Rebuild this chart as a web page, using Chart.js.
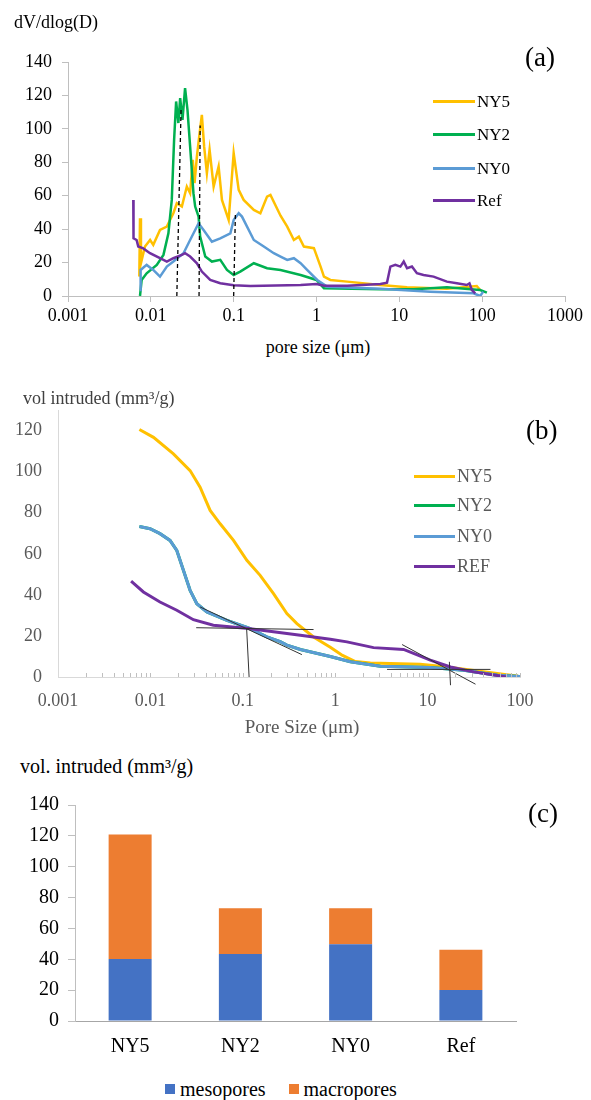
<!DOCTYPE html>
<html>
<head>
<meta charset="utf-8">
<script src="https://cdn.jsdelivr.net/npm/chart.js@4.4.1/dist/chart.umd.min.js"></script>
<style>
  body { margin: 0; background: #fff; width: 591px; height: 1100px; position: relative; overflow: hidden;
         font-family: "Liberation Serif", "DejaVu Serif", serif; color: #000; }
  canvas { position: absolute; left: 0; }
  .t { position: absolute; white-space: nowrap; line-height: 1; }
  .leg { position: absolute; white-space: nowrap; line-height: 1; display: flex; align-items: center; }
  .leg i { display: inline-block; width: 42px; height: 3px; margin-right: 2px; }
  .sq { display: inline-block; width: 10px; height: 10px; margin-right: 5px; }
</style>
</head>
<body>
<canvas id="chartA" width="591" height="335" style="top:0"></canvas>
<canvas id="chartB" width="591" height="340" style="top:380px"></canvas>
<canvas id="chartC" width="591" height="290" style="top:780px"></canvas>

<!-- panel (a) texts -->
<div class="t" style="left:14px;top:13px;font-size:18px">dV/dlog(D)</div>
<div class="t" style="left:525px;top:44px;font-size:27px">(a)</div>
<div class="t" style="left:218px;width:200px;text-align:center;top:338px;font-size:18px">pore size (μm)</div>
<div class="leg" style="left:433px;top:93px;font-size:17px"><i style="background:#FFC000"></i>NY5</div>
<div class="leg" style="left:433px;top:126px;font-size:17px"><i style="background:#00B050"></i>NY2</div>
<div class="leg" style="left:433px;top:160px;font-size:17px"><i style="background:#5B9BD5"></i>NY0</div>
<div class="leg" style="left:433px;top:192px;font-size:17px"><i style="background:#7030A0"></i>Ref</div>

<!-- panel (b) texts -->
<div class="t" style="left:23px;top:389px;font-size:18px;color:#404040">vol intruded (mm³/g)</div>
<div class="t" style="left:526px;top:417px;font-size:27px">(b)</div>
<div class="t" style="left:202px;width:200px;text-align:center;top:717px;font-size:19px;color:#595959">Pore Size (μm)</div>
<div class="leg" style="left:414px;top:467px;font-size:18px;color:#595959"><i style="background:#FFC000;width:41px"></i>NY5</div>
<div class="leg" style="left:414px;top:496px;font-size:18px;color:#595959"><i style="background:#00B050;width:41px"></i>NY2</div>
<div class="leg" style="left:414px;top:527px;font-size:18px;color:#595959"><i style="background:#5B9BD5;width:41px"></i>NY0</div>
<div class="leg" style="left:414px;top:557px;font-size:18px;color:#595959"><i style="background:#7030A0;width:41px"></i>REF</div>

<!-- panel (c) texts -->
<div class="t" style="left:20px;top:756px;font-size:20px">vol. intruded (mm³/g)</div>
<div class="t" style="left:528px;top:800px;font-size:27px">(c)</div>
<div class="leg" style="left:165px;top:1079px;font-size:20px"><span class="sq" style="background:#4472C4"></span>mesopores<span class="sq" style="background:#ED7D31;margin-left:23px"></span>macropores</div>

<script>
// ---- panel (a): dV/dlog(D) vs pore size (µm)
const aXTicks = [0.001, 0.01, 0.1, 1, 10, 100, 1000];
const aXLabels = ['0.001', '0.01', '0.1', '1', '10', '100', '1000'];
const aYTicks = [0, 20, 40, 60, 80, 100, 120, 140];

const aNY5x = [0.00726, 0.0074, 0.0076, 0.0085, 0.0098, 0.0107, 0.0129, 0.0156, 0.0187, 0.0206, 0.0237, 0.0272, 0.0298, 0.0321, 0.0337, 0.036, 0.0388, 0.0413, 0.044, 0.0475, 0.0512, 0.0573, 0.0658, 0.0722, 0.087, 0.1, 0.115, 0.132, 0.175, 0.21, 0.253, 0.278, 0.368, 0.443, 0.533, 0.612, 0.704, 0.93, 1.12, 1.23, 1.47, 2.34, 5.9, 12.4, 37.5, 86, 94.6];
const aNY5y = [11.6, 46.5, 19.6, 29.6, 33.5, 30.6, 39.5, 41.5, 49.5, 55.5, 53.5, 65.5, 61.5, 81.5, 67.5, 83.5, 97.5, 108.4, 89.5, 73.5, 87.5, 65.5, 77.5, 57.5, 45.5, 85.5, 63.5, 57.5, 51.5, 49.5, 59.5, 60.5, 48, 41.5, 33.5, 35.5, 29.6, 28.6, 17.6, 11.6, 9.6, 8.6, 6.6, 5.2, 4.4, 6.0, 3.6];

const aNY2x = [0.0074, 0.00775, 0.0089, 0.0118, 0.0142, 0.0163, 0.0179, 0.0191, 0.0202, 0.0215, 0.0226, 0.0241, 0.0259, 0.0277, 0.0298, 0.0327, 0.0343, 0.0377, 0.0394, 0.0454, 0.0546, 0.0689, 0.083, 0.1, 0.12, 0.175, 0.253, 0.368, 0.643, 1.0, 1.23, 5.9, 14.9, 37.5, 94.6, 114];
const aNY2y = [0, 9.6, 13.6, 18.6, 24.6, 37.5, 57.5, 93.5, 116.4, 103.5, 118.4, 105.4, 124.4, 111.4, 89.5, 61.5, 53.5, 47.5, 35.5, 23.6, 20.6, 21.6, 15.6, 12.6, 14.6, 19.6, 16.6, 15.6, 12.6, 9.6, 4.6, 4.0, 4.0, 5.2, 3.6, 2.0];

const aNY0x = [0.0074, 0.00753, 0.0089, 0.0107, 0.0129, 0.0156, 0.0187, 0.0248, 0.0298, 0.0377, 0.0433, 0.0546, 0.0689, 0.0912, 0.1, 0.115, 0.126, 0.175, 0.231, 0.305, 0.368, 0.443, 0.533, 0.643, 0.77, 1.02, 1.34, 5.9, 23.6, 78.6, 94.6, 103];
const aNY0y = [3.6, 15.6, 18.6, 15.6, 11.6, 17.6, 20.6, 25.6, 33.5, 43.5, 39.5, 32.5, 34.5, 37.5, 45.5, 49.5, 47.5, 33.5, 29.6, 25.6, 23.6, 21.6, 22.6, 19.6, 15.6, 9.6, 5.6, 4.4, 2.6, 1.6, 0, 2.6];

const aRefx = [0.00614, 0.00618, 0.00673, 0.00705, 0.0081, 0.00977, 0.0129, 0.0156, 0.0187, 0.0237, 0.0259, 0.0298, 0.036, 0.0413, 0.0521, 0.0689, 0.1, 0.159, 0.643, 1.0, 1.23, 2.34, 5.9, 7.1, 7.8, 8.95, 10.3, 11.3, 12.4, 14.2, 16.3, 19.6, 25.9, 37.5, 49.5, 65.3, 70.3, 75.1, 82.4];
const aRefy = [57.5, 34.5, 33.5, 29.6, 28.5, 25.6, 22.6, 20.6, 22.6, 24.6, 25.6, 23.6, 19.6, 14.6, 9.6, 7.6, 6.4, 6.0, 6.6, 7.2, 6.2, 6.2, 7.2, 8.0, 17.6, 18.6, 17.6, 20.6, 16.6, 17.6, 13.6, 12.6, 11.6, 8.6, 7.6, 6.6, 7.6, 3.6, 1.6];

// dashed peak markers (a)
const aDashX = [[0.0206, 0.0232], [0.0382, 0.0394], [0.1, 0.105]];
const aDashY = [[0, 113], [0, 102], [0, 50]];

// ---- panel (b): cumulative intruded volume
const bXTicks = [0.001, 0.01, 0.1, 1, 10, 100];
const bXLabels = ['0.001', '0.01', '0.1', '1', '10', '100'];
const bYTicks = [0, 20, 40, 60, 80, 100, 120];

const bNY5x = [0.0076, 0.0108, 0.01775, 0.0269, 0.0345, 0.0443, 0.0569, 0.0793, 0.1106, 0.154, 0.215, 0.30, 0.385, 0.583, 0.885, 1.2, 1.65, 2.4, 8.3, 15.5, 79, 95];
const bNY5y = [120.5, 116.7, 108.6, 100.5, 92.4, 81.1, 74.6, 66.5, 56.8, 49.5, 40.6, 30.9, 26, 19.5, 14.5, 10.5, 7.5, 6.8, 6.2, 5.0, 0.9, 0.5];

const bNY2x = [0.0076, 0.0099, 0.0127, 0.0163, 0.0193, 0.0228, 0.0269, 0.0318, 0.0408, 0.0673, 0.115, 0.182, 0.254, 0.30, 0.42, 0.885, 1.46, 3.08, 10.7, 24.6, 57, 100];
const bNY2y = [73.3, 72.2, 69.8, 66.5, 61.6, 51.9, 42.2, 35.7, 31.7, 27.6, 23.9, 19.5, 17.2, 15.5, 13.4, 10.0, 7.4, 5.2, 4.6, 3.3, 0.9, 0.2];

const bNY0x = [0.0076, 0.0099, 0.0127, 0.0163, 0.0193, 0.0228, 0.0269, 0.0318, 0.0408, 0.0673, 0.115, 0.182, 0.254, 0.30, 0.42, 0.885, 1.46, 3.08, 10.7, 24.6, 57, 100];
const bNY0y = [73.3, 72.2, 69.8, 66.5, 61.6, 51.9, 42.2, 35.7, 31.7, 27.6, 23.9, 19.5, 17.2, 15.5, 13.4, 10.0, 7.4, 5.2, 4.6, 3.3, 0.9, 0.2];

const bREFx = [0.00618, 0.0084, 0.0127, 0.0193, 0.0292, 0.048, 0.115, 0.42, 0.885, 1.34, 2.6, 5.5, 10.7, 17.7, 31.6, 72];
const bREFy = [46.7, 41.4, 36.5, 32.5, 27.9, 25.2, 23.6, 20.3, 18.4, 17.1, 14.3, 13.4, 8.2, 4.9, 2.5, 0];

// tangent construction lines (b)
const bTanX = [[0.0313, 0.583], [0.0345, 0.436], [0.11, 0.117], [3.64, 47.9], [5.3, 33], [17.2, 17.7]];
const bTanY = [[24.0, 23.1], [34.1, 10.9], [23.7, 0], [3.7, 3.7], [15.8, -3.5], [7.4, -4]];

// ---- panel (c): meso / macro pore volume
const cCategories = ['NY5', 'NY2', 'NY0', 'Ref'];
const cMeso = [40.2, 43.4, 49.7, 20.1];
const cMacro = [80.6, 29.6, 23.3, 26.1];

Chart.defaults.font.family = '"Liberation Serif", "DejaVu Serif", serif';

function pts(xs, ys) {
  return xs.map((x, i) => ({ x: x, y: ys[i] }));
}

function line(label, xs, ys, color, order, width) {
  return { label, data: pts(xs, ys), borderColor: color, borderWidth: width, order };
}

// ---------- chart (a)
const aSets = [
  line('NY5', aNY5x, aNY5y, '#FFC000', 4, 2.5),
  line('NY2', aNY2x, aNY2y, '#00B050', 3, 2.5),
  line('NY0', aNY0x, aNY0y, '#5B9BD5', 2, 2.5),
  line('Ref', aRefx, aRefy, '#7030A0', 1, 2.5)
];
aDashX.forEach((xs, i) => {
  aSets.push({ label: 'dash' + i, data: pts(xs, aDashY[i]), borderColor: '#000', borderWidth: 1.3, borderDash: [4, 3], order: 0 });
});

new Chart(document.getElementById('chartA'), {
  type: 'line',
  data: { datasets: aSets },
  options: {
    responsive: false,
    animation: false,
    events: [],
    layout: { padding: { top: 62, right: 26, left: 0, bottom: 0 } },
    plugins: { legend: { display: false }, tooltip: { enabled: false } },
    elements: { point: { radius: 0 }, line: { tension: 0, fill: false } },
    scales: {
      x: {
        type: 'logarithmic', min: 0.001, max: 1000,
        afterBuildTicks: s => { s.ticks = aXTicks.map(v => ({ value: v })); },
        afterFit: s => { s.height = 39; s.paddingLeft = 0; s.paddingRight = 0; },
        grid: { drawOnChartArea: false, color: '#bfbfbf', tickLength: 6 },
        border: { color: '#bfbfbf' },
        ticks: { autoSkip: false, maxRotation: 0, padding: 3, color: '#000', font: { size: 18 }, callback: (v, i) => aXLabels[i] }
      },
      y: {
        min: 0, max: 140,
        afterBuildTicks: s => { s.ticks = aYTicks.map(v => ({ value: v })); },
        afterFit: s => { s.width = 68; },
        grid: { drawOnChartArea: false, color: '#bfbfbf', tickLength: 6 },
        border: { color: '#bfbfbf' },
        ticks: { padding: 10, color: '#000', font: { size: 18 } }
      }
    }
  }
});

// ---------- chart (b)
// minor tick marks pointing up into the plot, like the original log axis
const bMinor = [];
bXTicks.slice(0, -1).forEach(d => {
  for (let m = 2; m <= 10; m++) bMinor.push(d * m);
});

const innerTicks = {
  id: 'innerTicks',
  afterDatasetsDraw(chart) {
    const sx = chart.scales.x;
    const y0 = chart.chartArea.bottom;
    const ctx = chart.ctx;
    ctx.save();
    ctx.strokeStyle = '#bfbfbf';
    ctx.lineWidth = 1;
    bMinor.forEach(v => {
      const px = Math.round(sx.getPixelForValue(v)) + 0.5;
      ctx.beginPath();
      ctx.moveTo(px, y0);
      ctx.lineTo(px, y0 - 4);
      ctx.stroke();
    });
    ctx.restore();
  }
};

const bSets = [
  line('NY5', bNY5x, bNY5y, '#FFC000', 4, 3),
  line('NY2', bNY2x, bNY2y, '#00B050', 3, 3),
  line('NY0', bNY0x, bNY0y, '#5B9BD5', 2, 3),
  line('REF', bREFx, bREFy, '#7030A0', 1, 3)
];
bTanX.forEach((xs, i) => {
  bSets.push({ label: 'tan' + i, data: pts(xs, bTanY[i]), borderColor: '#333', borderWidth: 1, order: 0, clip: false });
});

new Chart(document.getElementById('chartB'), {
  type: 'line',
  data: { datasets: bSets },
  plugins: [innerTicks],
  options: {
    responsive: false,
    animation: false,
    events: [],
    layout: { padding: { top: 30, right: 71, left: 0, bottom: 0 } },
    plugins: { legend: { display: false }, tooltip: { enabled: false } },
    elements: { point: { radius: 0 }, line: { tension: 0, fill: false } },
    scales: {
      x: {
        type: 'logarithmic', min: 0.001, max: 100,
        afterBuildTicks: s => { s.ticks = bXTicks.map(v => ({ value: v })); },
        afterFit: s => { s.height = 43; s.paddingLeft = 0; s.paddingRight = 0; },
        grid: { drawOnChartArea: false, drawTicks: false },
        border: { color: '#d9d9d9' },
        ticks: { autoSkip: false, maxRotation: 0, padding: 13, color: '#595959', font: { size: 18 }, callback: (v, i) => bXLabels[i] }
      },
      y: {
        min: 0, max: 130,
        afterBuildTicks: s => { s.ticks = bYTicks.map(v => ({ value: v })); },
        afterFit: s => { s.width = 58; },
        grid: { drawOnChartArea: false, drawTicks: false },
        border: { color: '#d9d9d9' },
        ticks: { padding: 16, color: '#595959', font: { size: 18 } }
      }
    }
  }
});

// ---------- chart (c)
new Chart(document.getElementById('chartC'), {
  type: 'bar',
  data: {
    labels: cCategories,
    datasets: [
      { label: 'mesopores', data: cMeso, backgroundColor: '#4472C4', barPercentage: 0.39, categoryPercentage: 1 },
      { label: 'macropores', data: cMacro, backgroundColor: '#ED7D31', barPercentage: 0.39, categoryPercentage: 1 }
    ]
  },
  options: {
    responsive: false,
    animation: false,
    events: [],
    layout: { padding: { top: 25, right: 75, left: 0, bottom: 0 } },
    plugins: { legend: { display: false }, tooltip: { enabled: false } },
    scales: {
      x: {
        stacked: true,
        afterFit: s => { s.height = 49; },
        grid: { drawOnChartArea: false, drawTicks: false },
        border: { color: '#a6a6a6' },
        ticks: { padding: 14, color: '#000', font: { size: 20 } }
      },
      y: {
        stacked: true, min: 0, max: 140,
        ticks: { stepSize: 20, padding: 9, color: '#000', font: { size: 20 } },
        afterFit: s => { s.width = 75; },
        grid: { drawOnChartArea: false, color: '#bfbfbf', tickLength: 7 },
        border: { color: '#bfbfbf' }
      }
    }
  }
});
</script>
</body>
</html>
